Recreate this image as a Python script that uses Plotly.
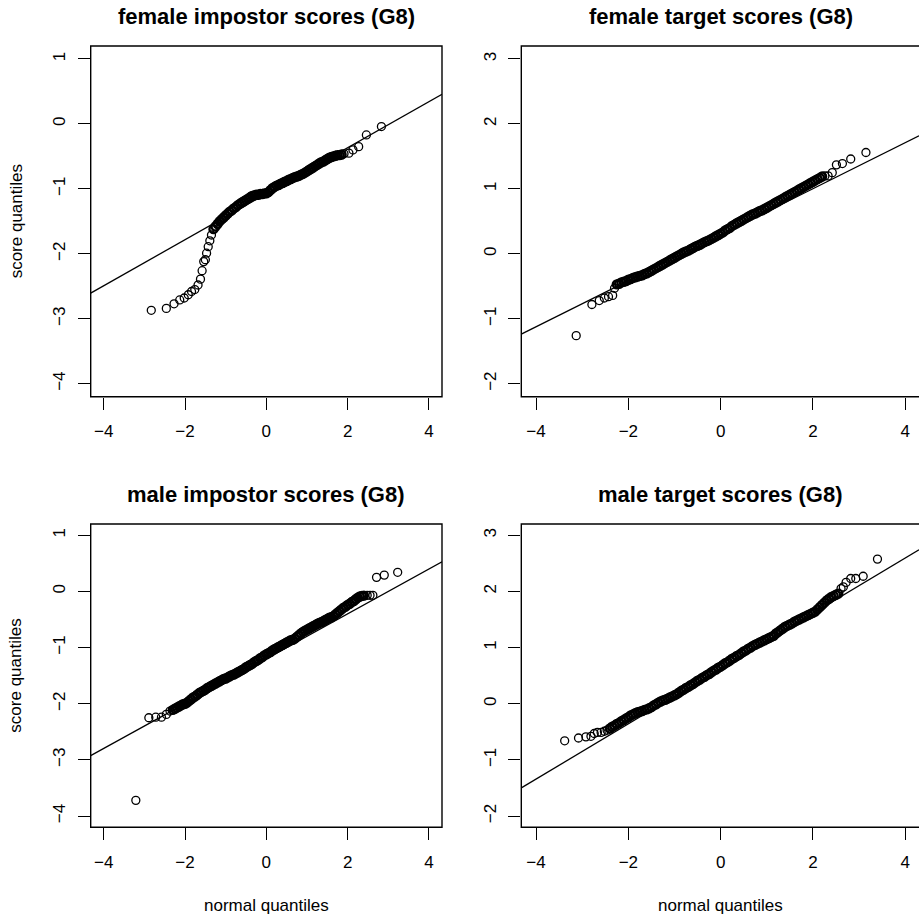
import plotly.graph_objects as go

# ---------------- data ----------------
titles = ["female impostor scores (G8)", "female target scores (G8)",
          "male impostor scores (G8)", "male target scores (G8)"]

# female impostor
fi_x = [-2.83, -2.46, -2.27, -2.13, -2.02, -1.92, -1.84, -1.76, -1.68, -1.62, -1.58, -1.54,
        -1.50, -1.47, -1.43, -1.39, -1.35,
        -1.30, -1.25, -1.20, -1.15, -1.10, -1.05, -1.00, -0.95, -0.90, -0.85, -0.80, -0.75,
        -0.70, -0.65, -0.60, -0.55, -0.50, -0.45, -0.40, -0.35, -0.30, -0.25, -0.20, -0.15,
        -0.10, -0.05, 0.00, 0.05, 0.10, 0.15, 0.20, 0.25, 0.30, 0.35, 0.40, 0.45, 0.50, 0.55,
        0.60, 0.65, 0.70, 0.75, 0.80, 0.85, 0.90, 0.95, 1.00, 1.05, 1.10, 1.15, 1.20, 1.25,
        1.30, 1.35, 1.40, 1.45, 1.50, 1.55, 1.60, 1.65, 1.70, 1.75, 1.80, 1.85,
        1.91, 2.03, 2.13, 2.27, 2.46, 2.83]
fi_y = [-2.87, -2.84, -2.77, -2.71, -2.68, -2.63, -2.58, -2.55, -2.48, -2.39, -2.26, -2.12,
        -2.09, -1.99, -1.89, -1.80, -1.71,
        -1.62, -1.58, -1.54, -1.50, -1.47, -1.44, -1.41, -1.38, -1.35, -1.33, -1.30, -1.28,
        -1.25, -1.23, -1.21, -1.19, -1.17, -1.15, -1.13, -1.11, -1.10, -1.09, -1.09, -1.08,
        -1.08, -1.07, -1.07, -1.05, -1.02, -0.99, -0.97, -0.95, -0.94, -0.92, -0.91, -0.89,
        -0.88, -0.86, -0.85, -0.83, -0.82, -0.81, -0.80, -0.78, -0.77, -0.75, -0.73, -0.71,
        -0.69, -0.67, -0.65, -0.63, -0.61, -0.59, -0.58, -0.56, -0.54, -0.52, -0.51, -0.50,
        -0.49, -0.48, -0.48, -0.47,
        -0.46, -0.45, -0.40, -0.35, -0.17, -0.04]

# female target
ft_x = [-3.13, -2.79, -2.63, -2.52, -2.43, -2.34, -2.30,
        -2.25, -2.20, -2.15, -2.10, -2.05, -2.00, -1.95, -1.90, -1.85, -1.80, -1.75, -1.70,
        -1.65, -1.60, -1.55, -1.50, -1.45, -1.40, -1.35, -1.30, -1.25, -1.20, -1.15, -1.10,
        -1.05, -1.00, -0.95, -0.90, -0.85, -0.80, -0.75, -0.70, -0.65, -0.60, -0.55, -0.50,
        -0.45, -0.40, -0.35, -0.30, -0.25, -0.20, -0.15, -0.10, -0.05, 0.00, 0.05, 0.10,
        0.15, 0.20, 0.25, 0.30, 0.35, 0.40, 0.45, 0.50, 0.55, 0.60, 0.65, 0.70, 0.75, 0.80,
        0.85, 0.90, 0.95, 1.00, 1.05, 1.10, 1.15, 1.20, 1.25, 1.30, 1.35, 1.40, 1.45, 1.50,
        1.55, 1.60, 1.65, 1.70, 1.75, 1.80, 1.85, 1.90, 1.95, 2.00, 2.05, 2.10, 2.15, 2.20,
        2.26, 2.33, 2.42, 2.51, 2.64, 2.82, 3.15]
ft_y = [-1.26, -0.78, -0.72, -0.68, -0.66, -0.64, -0.53,
        -0.47, -0.46, -0.44, -0.43, -0.42, -0.40, -0.39, -0.37, -0.36, -0.35, -0.34, -0.33,
        -0.31, -0.30, -0.28, -0.26, -0.24, -0.22, -0.20, -0.18, -0.16, -0.14, -0.12, -0.10,
        -0.08, -0.06, -0.04, -0.02, 0.00, 0.02, 0.035, 0.05, 0.07, 0.09, 0.11, 0.125,
        0.14, 0.16, 0.18, 0.195, 0.21, 0.23, 0.25, 0.27, 0.29, 0.31, 0.33, 0.36,
        0.38, 0.40, 0.43, 0.45, 0.47, 0.49, 0.51, 0.53, 0.55, 0.57, 0.59, 0.61, 0.62, 0.64,
        0.66, 0.67, 0.69, 0.71, 0.73, 0.75, 0.77, 0.79, 0.81, 0.83, 0.85, 0.87, 0.89, 0.91,
        0.93, 0.95, 0.97, 0.99, 1.01, 1.03, 1.05, 1.07, 1.09, 1.11, 1.13, 1.15, 1.17, 1.19,
        1.20, 1.20, 1.25, 1.37, 1.39, 1.46, 1.56]

# male impostor
mi_x = [-3.21, -2.89, -2.72, -2.58, -2.46, -2.37,
        -2.30, -2.25, -2.20, -2.15, -2.10, -2.05, -2.00, -1.95, -1.90, -1.85, -1.80, -1.75,
        -1.70, -1.65, -1.60, -1.55, -1.50, -1.45, -1.40, -1.35, -1.30, -1.25, -1.20, -1.15,
        -1.10, -1.05, -1.00, -0.95, -0.90, -0.85, -0.80, -0.75, -0.70, -0.65, -0.60, -0.55,
        -0.50, -0.45, -0.40, -0.35, -0.30, -0.25, -0.20, -0.15, -0.10, -0.05, 0.00, 0.05,
        0.10, 0.15, 0.20, 0.25, 0.30, 0.35, 0.40, 0.45, 0.50, 0.55, 0.60, 0.65, 0.70, 0.75,
        0.80, 0.85, 0.90, 0.95, 1.00, 1.05, 1.10, 1.15, 1.20, 1.25, 1.30, 1.35, 1.40, 1.45,
        1.50, 1.55, 1.60, 1.65, 1.70, 1.75, 1.80, 1.85, 1.90, 1.95, 2.00, 2.05, 2.10, 2.15,
        2.20, 2.25, 2.30, 2.35, 2.40,
        2.48, 2.55, 2.62, 2.71, 2.90, 3.23]
mi_y = [-3.72, -2.25, -2.24, -2.24, -2.19, -2.13,
        -2.11, -2.09, -2.07, -2.05, -2.03, -2.01, -2.00, -1.98, -1.95, -1.92, -1.89, -1.87,
        -1.84, -1.81, -1.79, -1.77, -1.75, -1.72, -1.70, -1.68, -1.66, -1.64, -1.62, -1.60,
        -1.58, -1.56, -1.55, -1.53, -1.51, -1.49, -1.48, -1.46, -1.44, -1.42, -1.40, -1.38,
        -1.35, -1.33, -1.31, -1.29, -1.26, -1.24, -1.22, -1.19, -1.17, -1.14, -1.12, -1.10,
        -1.08, -1.05, -1.03, -1.01, -0.99, -0.97, -0.95, -0.93, -0.91, -0.89, -0.87, -0.86,
        -0.84, -0.81, -0.78, -0.75, -0.72, -0.70, -0.68, -0.66, -0.64, -0.62, -0.60, -0.58,
        -0.56, -0.55, -0.53, -0.51, -0.49, -0.47, -0.46, -0.44, -0.41, -0.38, -0.35, -0.32,
        -0.29, -0.27, -0.24, -0.22, -0.19, -0.17, -0.14, -0.11, -0.09, -0.08, -0.075,
        -0.07, -0.07, -0.07, 0.25, 0.29, 0.34]

# male target
mt_x = [-3.38, -3.08, -2.92, -2.81, -2.74, -2.67, -2.59, -2.52, -2.46,
        -2.40, -2.35, -2.30, -2.25, -2.20, -2.15, -2.10, -2.05, -2.00, -1.95, -1.90, -1.85,
        -1.80, -1.75, -1.70, -1.65, -1.60, -1.55, -1.50, -1.45, -1.40, -1.35, -1.30, -1.25,
        -1.20, -1.15, -1.10, -1.05, -1.00, -0.95, -0.90, -0.85, -0.80, -0.75, -0.70, -0.65,
        -0.60, -0.55, -0.50, -0.45, -0.40, -0.35, -0.30, -0.25, -0.20, -0.15, -0.10, -0.05,
        0.00, 0.05, 0.10, 0.15, 0.20, 0.25, 0.30, 0.35, 0.40, 0.45, 0.50, 0.55, 0.60, 0.65,
        0.70, 0.75, 0.80, 0.85, 0.90, 0.95, 1.00, 1.05, 1.10, 1.15, 1.20, 1.25, 1.30, 1.35,
        1.40, 1.45, 1.50, 1.55, 1.60, 1.65, 1.70, 1.75, 1.80, 1.85, 1.90, 1.95, 2.00, 2.05,
        2.10, 2.15, 2.20, 2.25, 2.30, 2.35, 2.40, 2.45, 2.50, 2.55,
        2.61, 2.66, 2.72, 2.82, 2.93, 3.09, 3.40]
mt_y = [-0.66, -0.61, -0.59, -0.58, -0.53, -0.51, -0.51, -0.49, -0.47,
        -0.44, -0.41, -0.39, -0.36, -0.34, -0.31, -0.29, -0.26, -0.24, -0.21, -0.19, -0.17,
        -0.15, -0.14, -0.13, -0.11, -0.10, -0.08, -0.06, -0.03, -0.01, 0.02, 0.04, 0.06,
        0.07, 0.09, 0.11, 0.13, 0.15, 0.17, 0.20, 0.23, 0.25, 0.28, 0.30, 0.33,
        0.35, 0.38, 0.41, 0.43, 0.46, 0.48, 0.51, 0.53, 0.56, 0.59, 0.61, 0.64,
        0.66, 0.69, 0.72, 0.74, 0.77, 0.80, 0.82, 0.85, 0.87, 0.90, 0.93, 0.95, 0.98, 1.00,
        1.03, 1.05, 1.07, 1.09, 1.11, 1.13, 1.15, 1.17, 1.19, 1.21, 1.25, 1.28, 1.31, 1.34,
        1.37, 1.39, 1.41, 1.43, 1.46, 1.48, 1.50, 1.52, 1.54, 1.56, 1.58, 1.60, 1.62, 1.64,
        1.68, 1.72, 1.76, 1.80, 1.84, 1.87, 1.90, 1.92, 1.94, 1.96,
        2.05, 2.08, 2.16, 2.23, 2.23, 2.27, 2.575]

# where the points pile up into a solid band (normal-quantile interval)
dense_bands = [(-1.32, 1.87), (-2.27, 2.21), (-2.32, 2.41), (-2.42, 2.56)]

# qq reference lines: intercept, slope
line_intercepts = [-1.074, 0.294, -1.199, 0.626]
line_slopes = [0.3544, 0.354, 0.3995, 0.492]

x_ticks = [-4, -2, 0, 2, 4]
y_ticks_imp = [-4, -3, -2, -1, 0, 1]
y_ticks_tgt = [-2, -1, 0, 1, 2, 3]
y_ranges = [[-4.2, 1.2], [-2.2, 3.2], [-4.2, 1.2], [-2.2, 3.2]]

x_label = "normal quantiles"
y_label = "score quantiles"

# ---------------- layout geometry ----------------
W, H = 919, 918
FONT = "Liberation Sans, Arial, Helvetica, sans-serif"

# pixel boxes (left, right, top, bottom)
boxes = [(90.7, 442.0, 46.0, 396.7), (521.3, 919.0, 46.0, 396.7),
         (90.7, 442.0, 524.0, 827.3), (521.3, 919.0, 524.0, 827.3)]
x_ranges = [[-4.32, 4.32], [-4.32, 4.30], [-4.32, 4.32], [-4.32, 4.30]]

series = [(fi_x, fi_y), (ft_x, ft_y), (mi_x, mi_y), (mt_x, mt_y)]
yticks = [y_ticks_imp, y_ticks_tgt, y_ticks_imp, y_ticks_tgt]

fig = go.Figure()
layout = dict(width=W, height=H, margin=dict(l=0, r=0, t=0, b=0),
              paper_bgcolor="white", plot_bgcolor="white", showlegend=False,
              font=dict(family=FONT, color="black"))
shapes = []
annotations = []

for i in range(4):
    L, R, T, B = boxes[i]
    xa = "xaxis" if i == 0 else f"xaxis{i+1}"
    ya = "yaxis" if i == 0 else f"yaxis{i+1}"
    xr = "x" if i == 0 else f"x{i+1}"
    yr = "y" if i == 0 else f"y{i+1}"
    tick_common = dict(ticks="outside", ticklen=12, tickwidth=1.3, tickcolor="black",
                       showgrid=False, zeroline=False, showline=False,
                       tickfont=dict(family=FONT, size=17, color="black"), fixedrange=True)
    layout[xa] = dict(domain=[L / W, R / W], range=x_ranges[i], tickvals=x_ticks,
                      anchor=yr, ticklabelstandoff=7, **tick_common)
    layout[ya] = dict(domain=[1 - B / H, 1 - T / H], range=y_ranges[i], tickvals=yticks[i],
                      anchor=xr, tickangle=-90, ticklabelstandoff=6, **tick_common)

    xs, ys = series[i]
    lo, hi = dense_bands[i]
    sx = [x for x, y in zip(xs, ys) if not (lo <= x <= hi)]
    sy = [y for x, y in zip(xs, ys) if not (lo <= x <= hi)]
    dx = [x for x, y in zip(xs, ys) if lo <= x <= hi]
    dy = [y for x, y in zip(xs, ys) if lo <= x <= hi]
    fig.add_trace(go.Scatter(x=dx, y=dy, mode="markers", xaxis=xr, yaxis=yr,
                             marker=dict(symbol="circle-open", size=8, color="black",
                                         line=dict(width=2.4, color="black")),
                             hoverinfo="skip"))
    fig.add_trace(go.Scatter(x=sx, y=sy, mode="markers", xaxis=xr, yaxis=yr,
                             marker=dict(symbol="circle-open", size=8, color="black",
                                         line=dict(width=1.3, color="black")),
                             hoverinfo="skip"))
    x0, x1 = x_ranges[i]
    a, b = line_intercepts[i], line_slopes[i]
    fig.add_trace(go.Scatter(x=[x0, x1], y=[a + b * x0, a + b * x1], mode="lines",
                             xaxis=xr, yaxis=yr, line=dict(color="black", width=1.3),
                             hoverinfo="skip"))
    # box
    shapes.append(dict(type="rect", xref=f"{xr} domain", yref=f"{yr} domain",
                       x0=0, x1=1 if R < W else 1.02, y0=0, y1=1,
                       line=dict(color="black", width=1.4), layer="above"))
    # title
    annotations.append(dict(text=f"<b>{titles[i]}</b>", xref="paper", yref="paper",
                            x=((L + (R if R < W else 920)) / 2) / W,
                            y=1 - (16 if i < 2 else 494) / H,
                            xanchor="center", yanchor="middle", showarrow=False,
                            font=dict(family=FONT, size=22, color="black")))
    if i >= 2:
        annotations.append(dict(text=x_label, xref="paper", yref="paper",
                                x=((L + (R if R < W else 920)) / 2) / W, y=1 - 905 / H,
                                xanchor="center", yanchor="middle", showarrow=False,
                                font=dict(family=FONT, size=17, color="black")))
    if i % 2 == 0:
        annotations.append(dict(text=y_label, xref="paper", yref="paper",
                                x=16 / W, y=1 - ((T + B) / 2) / H, textangle=-90,
                                xanchor="center", yanchor="middle", showarrow=False,
                                font=dict(family=FONT, size=17, color="black")))

layout["shapes"] = shapes
layout["annotations"] = annotations
fig.update_layout(**layout)
fig.write_html("out.html")
